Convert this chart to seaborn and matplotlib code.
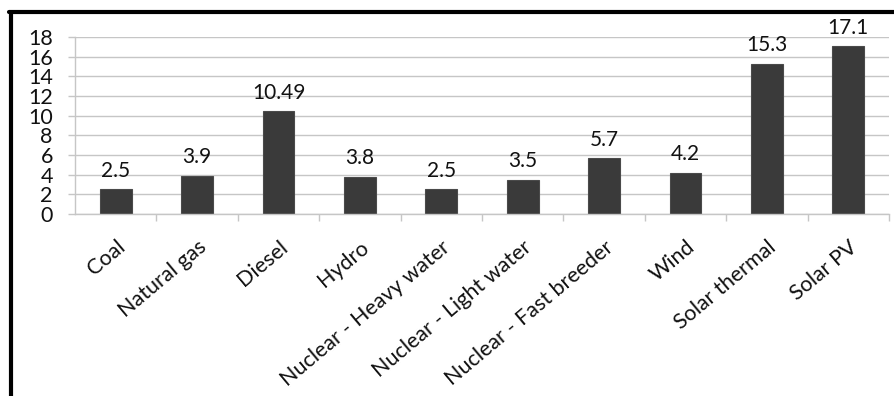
import matplotlib
matplotlib.use("Agg")
import matplotlib.pyplot as plt
from matplotlib.lines import Line2D
from matplotlib.ticker import FixedLocator
import seaborn as sns

# Cost by generation technology
categories = ["Coal", "Natural gas", "Diesel", "Hydro", "Nuclear - Heavy water",
              "Nuclear - Light water", "Nuclear - Fast breeder", "Wind",
              "Solar thermal", "Solar PV"]
values = [2.5, 3.9, 10.49, 3.8, 2.5, 3.5, 5.7, 4.2, 15.3, 17.1]
value_labels = ["2.5", "3.9", "10.49", "3.8", "2.5", "3.5", "5.7", "4.2", "15.3", "17.1"]
y_ticks = [0, 2, 4, 6, 8, 10, 12, 14, 16, 18]

sns.set_style("white")
plt.rcParams["font.family"] = ["Lato", "DejaVu Sans"]

grid_col = "#c6c6c6"
bar_col = "#3a3a3a"

fig = plt.figure(figsize=(8.94, 3.96), dpi=100)
ax = fig.add_axes([75 / 894, 1 - 214 / 396, (889 - 75) / 894, (214 - 37) / 396])

sns.barplot(x=categories, y=values, color=bar_col, width=0.39, ax=ax,
            saturation=1, edgecolor="#4a4a4a", linewidth=0.8)

ax.set_ylim(0, 18)
ax.set_xlim(-0.5, len(categories) - 0.5)
ax.yaxis.set_major_locator(FixedLocator(y_ticks))
ax.set_yticklabels([str(t) for t in y_ticks])
ax.yaxis.grid(True, color=grid_col, linewidth=1)
ax.set_axisbelow(True)

for side in ["top", "right"]:
    ax.spines[side].set_visible(False)
for side in ["left", "bottom"]:
    ax.spines[side].set_color(grid_col)
    ax.spines[side].set_linewidth(1)

ax.tick_params(axis="y", which="major", left=True, length=5, width=1,
               color=grid_col, pad=11, labelsize=15.5, labelcolor="#111111")
ax.tick_params(axis="x", which="major", bottom=False, labelsize=15.5,
               labelcolor="#111111", pad=13)
ax.set_xticks(range(len(categories)))
ax.set_xticklabels(categories, rotation=40, ha="right", rotation_mode="anchor")
ax.xaxis.set_minor_locator(FixedLocator([i + 0.5 for i in range(len(categories))]))
ax.tick_params(axis="x", which="minor", bottom=True, length=5, width=1, color=grid_col)
ax.set_xlabel("")
ax.set_ylabel("")

ax.bar_label(ax.containers[0], labels=value_labels, padding=6, fontsize=15,
             color="#111111")

# Frame edges along the left and top
fig.add_artist(Line2D([11 / 894, 11 / 894], [0, 1 - 12 / 396],
                      transform=fig.transFigure, color="black", linewidth=3))
fig.add_artist(Line2D([9 / 894, 1], [1 - 12 / 396, 1 - 12 / 396],
                      transform=fig.transFigure, color="black", linewidth=3))

fig.savefig("out.png", dpi=100, facecolor="white")
